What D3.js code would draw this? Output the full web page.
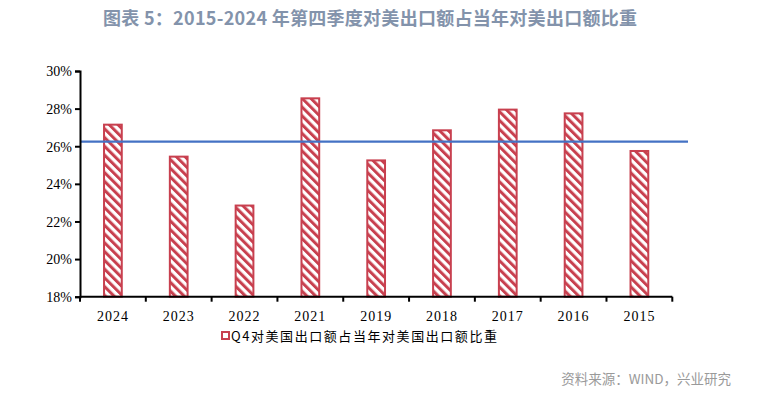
<!DOCTYPE html>
<html><head><meta charset="utf-8">
<script src="https://cdn.jsdelivr.net/npm/d3@7"></script>
<style>body{margin:0;background:#fff}svg{display:block}</style>
</head><body>
<svg id="c" width="758" height="395"></svg>
<script>
const categories = ["2024","2023","2022","2021","2019","2018","2017","2016","2015"];
const values = [27.2, 25.5, 22.9, 28.6, 25.3, 26.9, 28.0, 27.8, 25.8];
const averageLine = [26.24];
const yTicks = [18, 20, 22, 24, 26, 28, 30];
const seriesName = "Q4对美国出口额占当年对美国出口额比重";
const titleText = "图表 5：2015-2024 年第四季度对美出口额占当年对美出口额比重";
const sourceText = "资料来源：WIND，兴业研究";

const svg = d3.select("#c");
const red = "#C8404F";
const defs = svg.append("defs");
const pat = defs.append("pattern").attr("id","hatch").attr("patternUnits","userSpaceOnUse")
  .attr("width",6.2).attr("height",6.2).attr("patternTransform","rotate(-45)");
pat.append("rect").attr("width",6.2).attr("height",6.2).attr("fill","#fff");
pat.append("rect").attr("x",0).attr("y",0).attr("width",3).attr("height",6.2).attr("fill",red);

const x = d3.scaleBand().domain(categories).range([80, 672.3]).paddingInner(0.7).paddingOuter(0.35);
const y = d3.scaleLinear().domain([18, 30]).range([296.7, 71]);

svg.append("text").attr("x",103).attr("y",25).attr("text-anchor","start")
  .attr("font-family","'Noto Sans CJK SC','Noto Sans',sans-serif").attr("font-weight","bold")
  .attr("font-size",18).attr("textLength",534).attr("lengthAdjust","spacing")
  .attr("fill","#8393AB").text(titleText);

// bars
svg.append("g").selectAll("rect").data(values).join("rect")
  .attr("x",(d,i)=>x(categories[i])+1)
  .attr("width",x.bandwidth()-2)
  .attr("y",d=>y(d)+1)
  .attr("height",d=>y(18)-y(d)-1)
  .attr("fill","url(#hatch)").attr("stroke",red).attr("stroke-width",2);

// average line
svg.append("line").attr("x1",80).attr("x2",688)
  .attr("y1",y(averageLine[0])).attr("y2",y(averageLine[0]))
  .attr("stroke","#4472C4").attr("stroke-width",2.2);

// y axis
const ya = svg.append("g").attr("transform","translate(80,0)")
  .call(d3.axisLeft(y).tickValues(yTicks).tickSize(5).tickPadding(3).tickFormat(d=>d+"%"));
ya.select(".domain").attr("stroke","#000").attr("stroke-width",2);
ya.selectAll(".tick line").attr("stroke","#000").attr("stroke-width",2);
ya.selectAll("text").attr("font-family","'Liberation Serif','Times New Roman',serif")
  .attr("font-size",14).attr("fill","#000").attr("dy","0.35em");

// x axis
const xa = svg.append("g").attr("transform",`translate(0,${y(18)})`);
xa.append("line").attr("x1",80).attr("x2",672.3).attr("stroke","#000").attr("stroke-width",2);
const bounds = categories.map(c=>x(c) - (x.step()-x.bandwidth())/2).concat([672.3]);
xa.selectAll("line.tk").data(bounds).join("line").attr("class","tk")
  .attr("x1",d=>d).attr("x2",d=>d).attr("y1",0).attr("y2",5).attr("stroke","#000").attr("stroke-width",2);
xa.selectAll("text").data(categories).join("text")
  .attr("x",d=>x(d)+x.bandwidth()/2).attr("y",24).attr("text-anchor","middle")
  .attr("font-family","'Liberation Serif','Times New Roman',serif").attr("font-size",14)
  .attr("letter-spacing",1).attr("fill","#000").text(d=>d);

// legend
svg.append("rect").attr("x",222).attr("y",332).attr("width",7).attr("height",7)
  .attr("fill","#fff").attr("stroke",red).attr("stroke-width",2);
svg.append("text").attr("x",231).attr("y",341).attr("font-family","'Noto Sans CJK SC',sans-serif")
  .attr("font-size",13).attr("textLength",266).attr("lengthAdjust","spacing").attr("fill","#000").text(seriesName);

// source
svg.append("text").attr("x",731).attr("y",384).attr("text-anchor","end")
  .attr("font-family","'Noto Sans CJK SC',sans-serif").attr("font-size",13.5).attr("fill","#9a9a9a").text(sourceText);
</script>
</body></html>
